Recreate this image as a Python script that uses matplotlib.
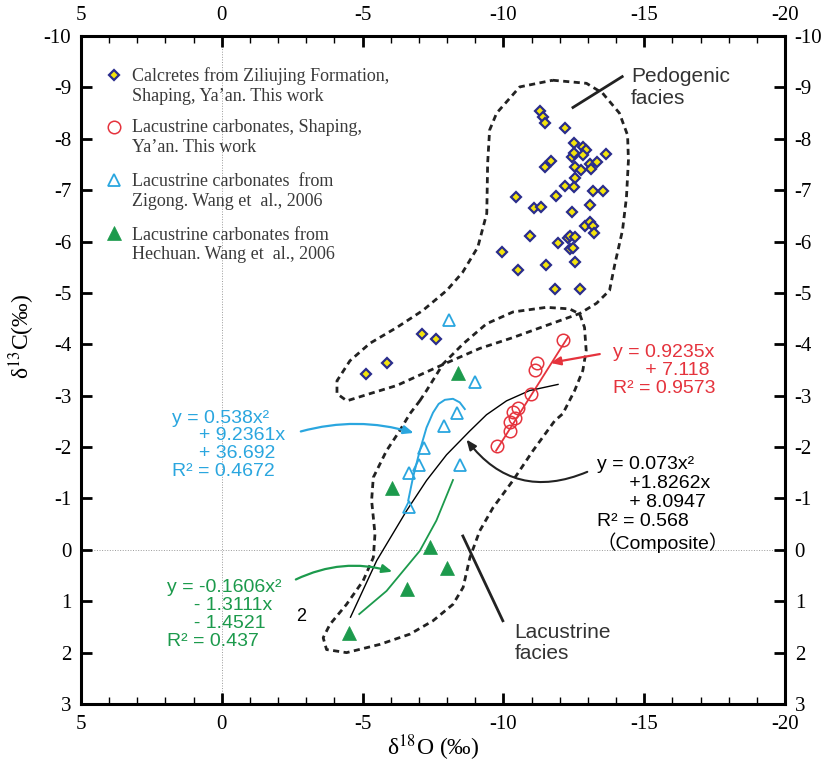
import numpy as np
import matplotlib
matplotlib.use('Agg')
import matplotlib.pyplot as plt

plt.rcParams['axes.unicode_minus'] = False
plt.rcParams['mathtext.fontset'] = 'stix'

# data (per mil)
calc_x = [-11.29, -11.40, -11.46, -12.17, -12.50, -12.82, -12.94, -12.82, -12.45, -12.49,
          -13.65, -11.70, -11.46, -12.53, -12.74, -13.09, -13.32, -13.12, -12.53, -12.17,
          -12.50, -13.18, -13.53, -10.46, -11.88, -11.07, -11.35, -12.45, -13.09, -12.91,
          -13.09, -13.18, -13.21, -10.96, -11.94, -12.29, -12.38, -12.56, -12.38, -12.47,
          -9.96, -11.50, -10.52, -12.53, -11.84, -12.71, -7.11, -7.60, -5.85, -5.11]
calc_y = [-8.55, -8.42, -8.31, -8.22, -7.92, -7.85, -7.78, -7.68, -7.65, -7.72,
          -7.70, -7.57, -7.46, -7.46, -7.39, -7.51, -7.54, -7.41, -7.23, -7.08,
          -7.06, -6.99, -6.98, -6.87, -6.89, -6.66, -6.67, -6.58, -6.72, -6.31,
          -6.39, -6.31, -6.16, -6.11, -5.97, -6.06, -6.10, -6.08, -5.85, -5.87,
          -5.79, -5.54, -5.45, -5.61, -5.08, -5.08, -4.20, -4.10, -3.63, -3.42]

shaping_x = [-12.11, -11.19, -11.11, -10.99, -10.52, -10.34, -10.40, -10.22, -10.25, -9.77]
shaping_y = [-4.09, -3.63, -3.50, -3.04, -2.76, -2.69, -2.56, -2.48, -2.32, -2.03]

zigong_x = [-8.06, -8.98, -8.37, -7.89, -7.17, -7.01, -6.65, -8.47, -6.65]
zigong_y = [-4.47, -3.27, -2.66, -2.41, -1.99, -1.65, -1.50, -1.65, -0.84]

hechuan_x = [-8.39, -6.06, -7.39, -7.98, -6.56, -4.52]
hechuan_y = [-3.44, -1.21, -0.05, 0.36, 0.77, 1.61]

# fitted curves as drawn
red_fit_x = [-9.74, -12.29]
red_fit_y = [-1.93, -4.14]
blue_fit_x = [-6.62, -6.79, -7.03, -7.27, -7.50, -7.70, -7.92, -8.21, -8.45, -8.63]
blue_fit_y = [-0.96, -1.41, -1.93, -2.38, -2.67, -2.84, -2.92, -2.94, -2.87, -2.74]
green_fit_x = [-4.88, -5.85, -7.03, -7.62, -8.21]
green_fit_y = [1.25, 0.80, 0.02, -0.57, -1.36]
black_fit_x = [-4.57, -5.50, -6.56, -7.27, -7.98, -8.80, -9.40, -10.11, -10.93, -11.94]
black_fit_y = [1.31, 0.21, -0.76, -1.35, -1.85, -2.31, -2.63, -2.90, -3.10, -3.22]

# facies envelopes
pedo_x = [-11.75, -12.95, -13.52, -14.12, -14.41, -14.44, -14.37, -14.23, -13.95, -13.77,
          -13.31, -12.71, -11.54, -10.33, -9.16, -7.99, -7.14, -6.22, -5.26, -4.44,
          -4.09, -4.09, -4.55, -5.26, -6.22, -7.14, -7.99, -8.55, -9.09, -9.41,
          -9.44, -9.51, -9.76, -10.58, -11.75]
pedo_y = [-9.14, -9.08, -8.89, -8.50, -8.07, -7.58, -6.86, -6.22, -5.54, -5.05,
          -4.80, -4.60, -4.37, -4.13, -3.92, -3.64, -3.43, -3.20, -3.04, -2.90,
          -3.04, -3.29, -3.68, -4.02, -4.33, -4.66, -5.05, -5.40, -5.89, -6.55,
          -7.52, -8.17, -8.50, -9.01, -9.14]
lacu_x = [-7.03, -7.27, -7.86, -8.57, -9.40, -10.34, -11.52, -12.35, -12.71, -12.88,
          -12.94, -12.82, -12.53, -12.11, -11.82, -11.05, -10.34, -9.63, -9.16, -8.81,
          -8.57, -8.21, -7.50, -6.68, -5.61, -4.43, -3.72, -3.60, -3.84, -4.43,
          -5.02, -5.38, -5.44, -5.32, -5.38, -5.85, -6.32, -6.68, -7.03]
lacu_y = [-2.90, -3.10, -3.62, -4.01, -4.40, -4.63, -4.72, -4.69, -4.59, -4.33,
          -3.88, -3.49, -3.10, -2.65, -2.51, -1.93, -1.35, -0.82, -0.37, 0.15,
          0.73, 1.06, 1.38, 1.64, 1.84, 2.00, 1.94, 1.71, 1.45, 1.06,
          0.60, 0.15, -0.31, -0.96, -1.41, -1.93, -2.32, -2.65, -2.90]

legend_labels = ['Calcretes from Ziliujing Formation,\nShaping, Ya\u2019an. This work',
                 'Lacustrine carbonates, Shaping,\nYa\u2019an. This work',
                 'Lacustrine carbonates  from\nZigong. Wang et  al., 2006',
                 'Lacustrine carbonates from\nHechuan. Wang et  al., 2006']

RED = '#e5333d'
BLUE = '#2aa6df'
GREEN = '#1c9a4c'
NAVY = '#2a2d8c'
YELLOW = '#f4e40c'
SANS = ['Liberation Sans', 'Noto Sans CJK SC', 'DejaVu Sans']
SERIF = 'Liberation Serif'

fig = plt.figure(figsize=(8.25, 7.62), dpi=100)
ax = fig.add_axes([0.0982, 0.0761, 0.8533, 0.8766])

ax.set_xlim(5, -20)
ax.set_ylim(3, -10)

ax.axvline(0, color='#9a9a9a', lw=0.7, ls=':', zorder=0)
ax.axhline(0, color='#9a9a9a', lw=0.7, ls=':', zorder=0)

# envelopes
dash = (0, (2.2, 1.6))
ax.plot(pedo_x, pedo_y, color='#222222', lw=2.0, ls=dash, zorder=1)
ax.plot(lacu_x, lacu_y, color='#222222', lw=2.0, ls=dash, zorder=1)

# fit lines
ax.plot(red_fit_x, red_fit_y, color=RED, lw=1.3, zorder=2)
ax.plot(blue_fit_x, blue_fit_y, color=BLUE, lw=1.4, zorder=2)
ax.plot(green_fit_x, green_fit_y, color=GREEN, lw=1.3, zorder=2)
ax.plot(black_fit_x, black_fit_y, color='black', lw=1.0, zorder=2)

# data
ax.plot(calc_x, calc_y, ls='none', marker='D', ms=4.8, mfc=YELLOW, mec=NAVY, mew=1.6, zorder=3)
ax.plot(shaping_x, shaping_y, ls='none', marker='o', ms=9, mfc='none', mec=RED, mew=1.1, zorder=3)
ax.plot(zigong_x, zigong_y, ls='none', marker='^', ms=9, mfc='none', mec=BLUE, mew=1.3, zorder=3)
ax.plot(hechuan_x, hechuan_y, ls='none', marker='^', ms=10, mfc=GREEN, mec=GREEN, mew=0.5, zorder=3)

# legend, drawn by hand so the marker sits on the first line
leg_styles = [dict(marker='D', ms=4.8, mfc=YELLOW, mec=NAVY, mew=1.6),
              dict(marker='o', ms=9, mfc='none', mec=RED, mew=1.1),
              dict(marker='^', ms=9, mfc='none', mec=BLUE, mew=1.3),
              dict(marker='^', ms=10, mfc=GREEN, mec=GREEN, mew=0.5)]
leg_marker_y = [0.9416, 0.8642, 0.7844, 0.7046]
leg_text_y = [0.9251, 0.848, 0.7677, 0.6871]
for lab, st, my, ty in zip(legend_labels, leg_styles, leg_marker_y, leg_text_y):
    ax.plot([0.047], [my], transform=ax.transAxes, ls='none', clip_on=False, **st)
    ax.text(0.072, ty, lab, transform=ax.transAxes, fontsize=13, family=SERIF,
            color='#3a3a3a', va='center', ha='left', linespacing=1.2)

# facies labels
ax.text(-14.53, -9.0, 'Pedogenic\nfacies', fontsize=15, family=SANS, color='#333333',
        va='center', ha='left', linespacing=1.15)
ax.plot([-12.47, -14.22], [-8.61, -9.21], color='#222222', lw=2.0)
ax.text(-10.40, 1.81, 'Lacustrine\nfacies', fontsize=15, family=SANS, color='#333333',
        va='center', ha='left', linespacing=1.15)
ax.plot([-8.56, -9.98], [-0.27, 1.38], color='#222222', lw=2.0)

# equations
ax.text(-13.88, -3.49, 'y = 0.9235x\n      + 7.118\nR\u00b2 = 0.9573', fontsize=14, family=SANS,
        color=RED, va='center', ha='left', linespacing=1.1)
ax.annotate('', xy=(-11.57, -3.63), xytext=(-13.52, -3.82),
            arrowprops=dict(arrowstyle='-|>,head_length=0.6,head_width=0.25', color=RED, lw=1.6))

ax.text(-13.31, -0.88, 'y = 0.073x\u00b2\n      +1.8262x\n      + 8.0947\nR\u00b2 = 0.568\n\uff08Composite\uff09',
        fontsize=14, family=SANS, color='black', va='center', ha='left', linespacing=1.15)
ax.annotate('', xy=(-8.63, -2.19), xytext=(-13.07, -1.54),
            arrowprops=dict(arrowstyle='-|>,head_length=0.6,head_width=0.25', color='#222222', lw=1.5,
                            connectionstyle='arc3,rad=-0.4'))

ax.text(1.77, -2.05, 'y = 0.538x\u00b2\n     + 9.2361x\n     + 36.692\nR\u00b2 = 0.4672', fontsize=14,
        family=SANS, color=BLUE, va='center', ha='left', linespacing=1.05)
ax.annotate('', xy=(-6.91, -2.26), xytext=(-2.71, -2.29),
            arrowprops=dict(arrowstyle='-|>,head_length=0.6,head_width=0.25', color=BLUE, lw=1.6,
                            connectionstyle='arc3,rad=-0.15'))

ax.text(1.95, 1.26, 'y = -0.1606x\u00b2\n     - 1.3111x\n     - 1.4521\nR\u00b2 = 0.437', fontsize=14,
        family=SANS, color=GREEN, va='center', ha='left', linespacing=1.08)
ax.annotate('', xy=(-6.15, 0.44), xytext=(-2.54, 0.60),
            arrowprops=dict(arrowstyle='-|>,head_length=0.6,head_width=0.25', color=GREEN, lw=1.6,
                            connectionstyle='arc3,rad=-0.2'))

ax.text(-2.80, 1.29, '2', fontsize=13, family=SANS, color='black', va='center', ha='center')

# axes styling
ax.set_xticks(np.arange(5, -21, -5))
ax.set_xticks(np.arange(5, -21, -1), minor=True)
ax.set_yticks(np.arange(-10, 4, 1))
ax.tick_params(which='major', direction='in', length=8, width=2.0, top=True, right=True,
               labeltop=True, labelright=True, labelsize=15, pad=7)
ax.tick_params(which='minor', direction='in', length=5, width=1.0, top=True, right=False, left=False)
ax.tick_params(axis='x', which='major', pad=8)
for lab in ax.xaxis.get_ticklabels(which='major') + ax.yaxis.get_ticklabels():
    lab.set_family(SERIF)
for s in ax.spines.values():
    s.set_linewidth(2.2)

ax.set_xlabel('\u03b4$^{18}$O (‰)', fontsize=17, family=SERIF, labelpad=-1)
ax.set_ylabel('\u03b4$^{13}$C(‰)', fontsize=17, family=SERIF)
ax.yaxis.set_label_coords(-0.062, 0.55)

fig.savefig('out.png', dpi=100)
